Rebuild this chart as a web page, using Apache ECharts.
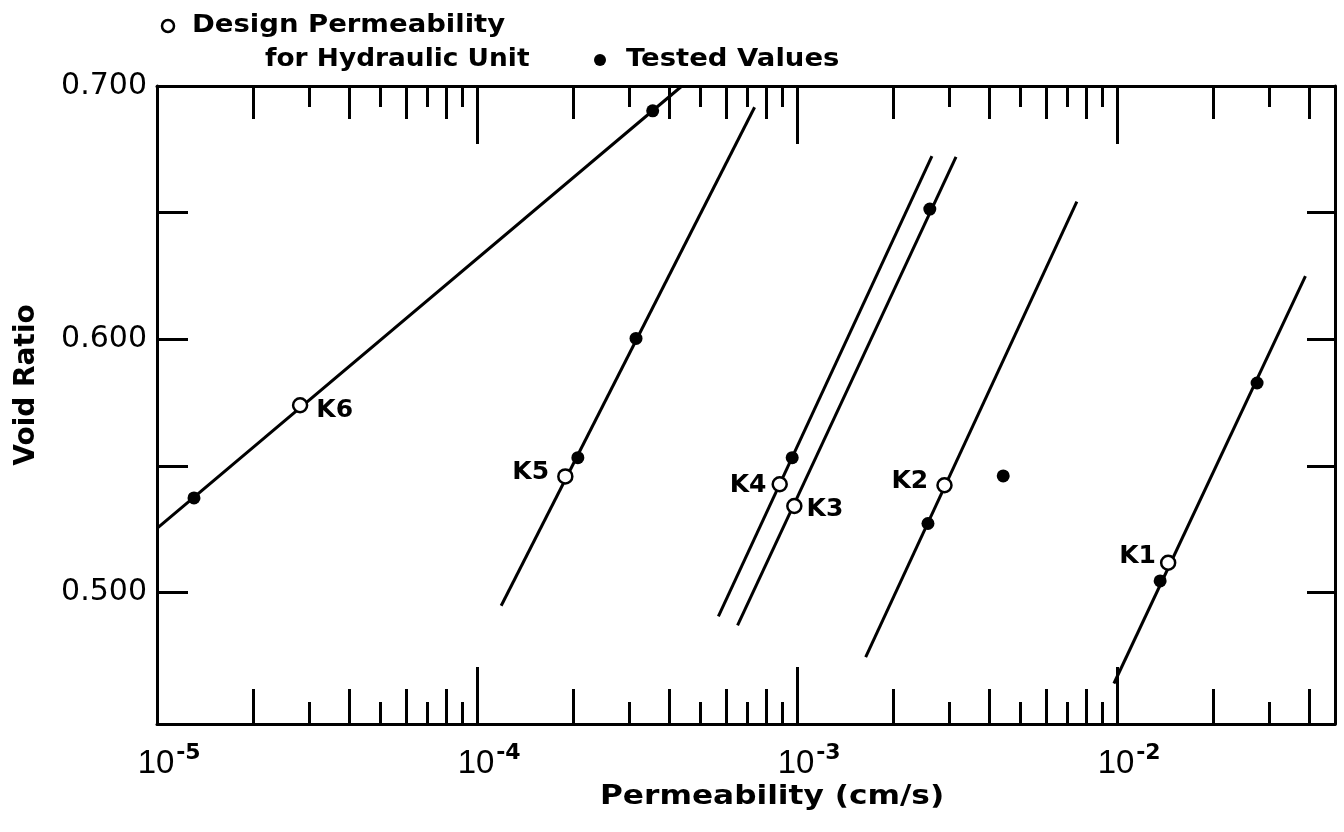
<!DOCTYPE html>
<html><head><meta charset="utf-8">
<script src="https://cdn.jsdelivr.net/npm/echarts@6/dist/echarts.min.js"></script>
<style>html,body{margin:0;padding:0;background:#fff}#c{width:1344px;height:832px}</style>
</head><body><div id="c"></div>
<script>
// ---- axis ranges ----
const xMin = 1e-5, xMax = 0.048;
const yMin = 0.448, yMax = 0.700;

// ---- tick / label values ----
const xLabelValues = [1e-5, 1e-4, 1e-3, 1e-2];
const tickDecade = [1e-4, 1e-3, 1e-2];
const tickEven = [2e-5, 4e-5, 6e-5, 8e-5, 2e-4, 4e-4, 6e-4, 8e-4, 2e-3, 4e-3, 6e-3, 8e-3, 2e-2, 4e-2];
const tickOdd = [3e-5, 5e-5, 7e-5, 9e-5, 3e-4, 5e-4, 7e-4, 9e-4, 3e-3, 5e-3, 7e-3, 9e-3, 3e-2];
const yLabelValues = [0.5, 0.6, 0.7];
const yTickValues = [0.5, 0.55, 0.6, 0.65];

// ---- fitted lines (one per hydraulic unit) ----
const lineNames = ['K1', 'K2', 'K3', 'K4', 'K5', 'K6'];
const lineStartX = [9.78e-3, 1.639e-3, 6.52e-4, 5.68e-4, 1.19e-4, 1e-5];
const lineStartY = [0.464, 0.4744, 0.487, 0.4905, 0.4947, 0.5253];
const lineEndX = [3.88e-2, 7.49e-3, 3.14e-3, 2.64e-3, 7.37e-4, 4.37e-4];
const lineEndY = [0.6249, 0.6543, 0.672, 0.6723, 0.6916, 0.700];

// ---- design permeability (open circles) ----
const designNames = ['K1', 'K2', 'K3', 'K4', 'K5', 'K6'];
const designX = [1.445e-2, 2.89e-3, 9.81e-4, 8.83e-4, 1.888e-4, 2.80e-5];
const designY = [0.5117, 0.5423, 0.5341, 0.5427, 0.5458, 0.5739];

// ---- tested values (filled dots) ----
const testedX = [1.305e-5, 3.54e-4, 2.066e-4, 3.14e-4, 9.66e-4, 2.60e-3, 2.566e-3, 4.41e-3, 1.364e-2, 2.74e-2];
const testedY = [0.5373, 0.6902, 0.5532, 0.6003, 0.5532, 0.6514, 0.5272, 0.546, 0.5045, 0.5827];

// ---- label placement styles (not data) ----
const labelStyle = {
  K1: {position: 'left', distance: 4, offset: [0, -6]},
  K2: {position: 'left', distance: 8, offset: [0, -4]},
  K3: {position: 'right', distance: 4, offset: [0, 3]},
  K4: {position: 'left', distance: 5, offset: [0, 1]},
  K5: {position: 'left', distance: 8, offset: [0, -4]},
  K6: {position: 'right', distance: 8, offset: [0, 5]}
};

const BLACK = '#000';
const FONT = '"DejaVu Sans", sans-serif';

function tickAxis(position, values, length) {
  return {
    type: 'log', logBase: 10, min: xMin, max: xMax, gridIndex: 0, position: position,
    axisLine: {show: false, onZero: false},
    axisTick: {show: true, inside: true, length: length, customValues: values,
      lineStyle: {color: BLACK, width: 3}},
    axisLabel: {show: false}, splitLine: {show: false}, minorTick: {show: false}
  };
}

const xAxes = [
  {
    type: 'log', logBase: 10, min: xMin, max: xMax, gridIndex: 0, position: 'bottom',
    axisLine: {show: true, onZero: false, lineStyle: {color: BLACK, width: 3}},
    axisTick: {show: true, inside: true, length: 57, customValues: tickDecade,
      lineStyle: {color: BLACK, width: 3}},
    axisLabel: {
      show: true, customValues: xLabelValues, margin: 18, color: BLACK,
      formatter: function (v) {
        const e = Math.round(Math.log10(v));
        return '{p|}{b|10}{s|' + e + '}';
      },
      rich: {
        p: {width: 24},
        b: {fontSize: 33, fontFamily: '"Liberation Sans Narrow", "Liberation Sans", sans-serif', color: BLACK, padding: [5, 0, 0, 0]},
        s: {fontSize: 22, fontFamily: FONT, fontWeight: 'bold', color: BLACK, verticalAlign: 'top', width: 24, lineHeight: 22, padding: [0, 0, 0, 2]}
      }
    },
    splitLine: {show: false}, minorTick: {show: false}
  },
  tickAxis('bottom', tickEven, 35),
  tickAxis('bottom', tickOdd, 22),
  Object.assign(tickAxis('top', tickDecade, 58), {axisLine: {show: true, onZero: false, lineStyle: {color: BLACK, width: 3}}}),
  tickAxis('top', tickEven, 33),
  tickAxis('top', tickOdd, 21)
];

const yAxes = [
  {
    type: 'value', min: yMin, max: yMax, position: 'left',
    name: 'Void Ratio', nameLocation: 'middle', nameGap: 116, nameRotate: 90,
    nameTextStyle: {fontFamily: FONT, fontWeight: 'bold', fontSize: 28, color: BLACK, padding: [0, 0, 0, 40]},
    axisLine: {show: true, onZero: false, lineStyle: {color: BLACK, width: 3}},
    axisTick: {show: true, inside: true, length: 31, customValues: yTickValues, lineStyle: {color: BLACK, width: 3}},
    axisLabel: {show: true, customValues: yLabelValues, margin: 10, fontFamily: FONT, fontSize: 30, color: BLACK,
      formatter: function (v) { return v.toFixed(3); }},
    splitLine: {show: false}
  },
  {
    type: 'value', min: yMin, max: yMax, position: 'right',
    axisLine: {show: true, onZero: false, lineStyle: {color: BLACK, width: 3}},
    axisTick: {show: true, inside: true, length: 28, customValues: yTickValues, lineStyle: {color: BLACK, width: 3}},
    axisLabel: {show: false}, splitLine: {show: false}
  }
];

const series = [];
lineNames.forEach(function (n, i) {
  series.push({
    name: 'Line ' + n, type: 'line', xAxisIndex: 0, yAxisIndex: 0,
    data: [[lineStartX[i], lineStartY[i]], [lineEndX[i], lineEndY[i]]],
    symbol: 'none', clip: true, silent: true, z: 2,
    lineStyle: {color: BLACK, width: 3}
  });
});
series.push({
  name: 'Tested Values', type: 'scatter', xAxisIndex: 0, yAxisIndex: 0, z: 3,
  symbol: 'circle', symbolSize: 13, itemStyle: {color: BLACK, opacity: 1},
  data: testedX.map(function (x, i) { return [x, testedY[i]]; })
});
series.push({
  name: 'Design Permeability for Hydraulic Unit', type: 'scatter', xAxisIndex: 0, yAxisIndex: 0, z: 4,
  symbol: 'circle', symbolSize: 14,
  itemStyle: {color: '#fff', borderColor: BLACK, borderWidth: 2.5, opacity: 1},
  data: designX.map(function (x, i) {
    const st = labelStyle[designNames[i]];
    return {
      value: [x, designY[i]], name: designNames[i],
      label: {show: true, formatter: designNames[i], position: st.position, distance: st.distance, offset: st.offset,
        fontFamily: FONT, fontWeight: 'bold', fontSize: 25, color: BLACK, opacity: 1}
    };
  })
});

function gText(text, x, y, size, scaleX, align) {
  return {
    type: 'text', x: x, y: y, scaleX: scaleX, z: 10,
    style: {text: text, x: 0, y: 0, fill: BLACK, font: 'bold ' + size + 'px ' + FONT,
      align: align || 'left', verticalAlign: 'middle', textAlign: align || 'left', textVerticalAlign: 'middle'}
  };
}

const option = {
  animation: false,
  backgroundColor: '#fff',
  grid: {left: 157, right: 9, top: 86, bottom: 108, containLabel: false},
  xAxis: xAxes,
  yAxis: yAxes,
  series: series,
  graphic: [
    {type: 'circle', shape: {cx: 168, cy: 26, r: 6}, style: {fill: '#fff', stroke: BLACK, lineWidth: 2.5}, z: 10},
    gText('Design Permeability', 192, 26, 24, 1.145),
    gText('for Hydraulic Unit', 265, 60, 24, 1.1),
    {type: 'circle', shape: {cx: 600, cy: 60, r: 6}, style: {fill: BLACK}, z: 10},
    gText('Tested Values', 626, 60, 24, 1.145),
    gText('Permeability (cm/s)', 600, 797, 26, 1.2)
  ]
};
const chart = echarts.init(document.getElementById('c'));
chart.setOption(option);
</script>
</body></html>
